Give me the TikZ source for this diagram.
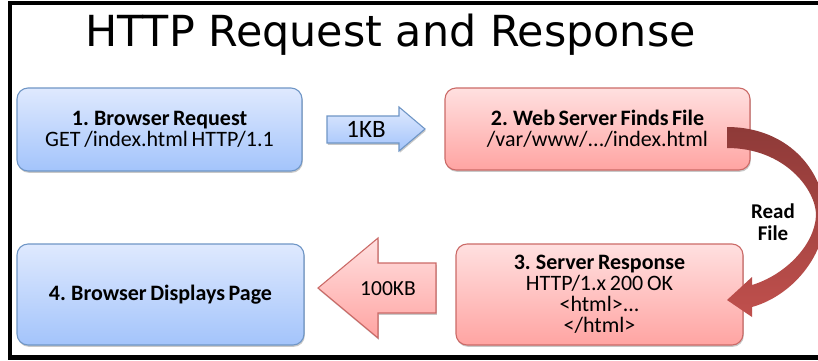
\documentclass[tikz,border=0pt]{standalone}
\usepackage{fontspec}
\setmainfont{Carlito}
\newfontfamily\titlefont{DejaVu Sans}
\usetikzlibrary{shadows}
\definecolor{bluetop}{HTML}{DFE9FE}
\definecolor{bluebot}{HTML}{A3C4FB}
\definecolor{blueline}{HTML}{6F96C6}
\definecolor{redtop}{HTML}{FFE0E0}
\definecolor{redbot}{HTML}{FFA4A2}
\definecolor{redline}{HTML}{CB6A67}
\definecolor{curvetop}{HTML}{8E3A38}
\definecolor{curvebot}{HTML}{C0504D}
\newcommand{\boldline}[1]{{\bfseries\spaceskip=.16em\relax #1}}
\newcommand{\tightline}[1]{{\spaceskip=.17em\relax #1}}
\tikzset{
  softshadow/.style={drop shadow={shadow xshift=0.8pt,shadow yshift=-1.8pt,opacity=.3,fill=black!70}},
  bluebox/.style={draw=blueline,line width=1.1pt,rounded corners=11pt,top color=bluetop,bottom color=bluebot,softshadow,inner sep=0pt,align=center,font=\fontsize{22}{21}\selectfont},
  redbox/.style={draw=redline,line width=1.1pt,rounded corners=11pt,top color=redtop,bottom color=redbot,softshadow,inner sep=0pt,align=center,font=\fontsize{22}{21}\selectfont},
  bluearrow/.style={draw=blueline,line width=1.1pt,top color=bluetop,bottom color=bluebot,softshadow},
  redarrow/.style={draw=redline,line width=1.1pt,top color=redtop,bottom color=redbot,softshadow},
  arrowlabel/.style={inner sep=0pt},
  frame/.style={fill=black,draw=none}
}
\begin{document}
\begin{tikzpicture}[x=1pt,y=-1pt]
\useasboundingbox (0,0) rectangle (818,360);
\clip (0,0) rectangle (818,360);
\fill[white] (0,0) rectangle (818,360);
\path[frame] (8,1) rectangle (818,4.5);
\path[frame] (8,1) rectangle (12,360);
\path[frame] (8,355) rectangle (818,360);
\node[inner sep=0pt,font=\titlefont\fontsize{42.8}{46}\selectfont] (title) at (390.5,35) {HTTP Request and Response};
\node[bluebox,minimum width=285pt,minimum height=83pt] (b1) at (159.5,129.5) {\boldline{1. Browser Request}\\\tightline{GET /index.html HTTP/1.1}};
\node[redbox,minimum width=305pt,minimum height=82pt] (b2) at (597.5,129) {\boldline{2. Web Server Finds File}\\/var/www/.../index.html};
\node[redbox,minimum width=287pt,minimum height=101pt] (b3) at (599.5,294.5) {\boldline{3. Server Response}\\\tightline{HTTP/1.x 200 OK}\\<html>...\\</html>};
\node[bluebox,minimum width=287pt,minimum height=101pt] (b4) at (160.5,294.5) {\boldline{4. Browser Displays Page}};
\path[bluearrow] (327,116) -- (399,116) -- (399,107) -- (425,129) -- (399,151) -- (399,143) -- (327,143) -- cycle;
\node[arrowlabel,font=\fontsize{25}{26}\selectfont] (l1) at (366,129) {1KB};
\path[redarrow] (436,263) -- (378,263) -- (378,238) -- (318,288) -- (378,338) -- (378,313) -- (436,313) -- cycle;
\node[arrowlabel,font=\fontsize{21.5}{24}\selectfont] (l2) at (388,289) {100KB};
\path[top color=curvetop,bottom color=curvebot,draw=none]
  (727,127) .. controls (775,127) and (815,155) .. (825,205)
  .. controls (830,250) and (795,295) .. (752,307)
  -- (752,317) -- (727,300) -- (752,277) -- (752,285)
  .. controls (785,275) and (815,245) .. (816,215)
  .. controls (816,190) and (785,148) .. (727,148) -- cycle;
\node[inner sep=0pt,align=center,font=\bfseries\fontsize{21}{22}\selectfont] (l3) at (773,222) {Read\\File};
\end{tikzpicture}
\end{document}
